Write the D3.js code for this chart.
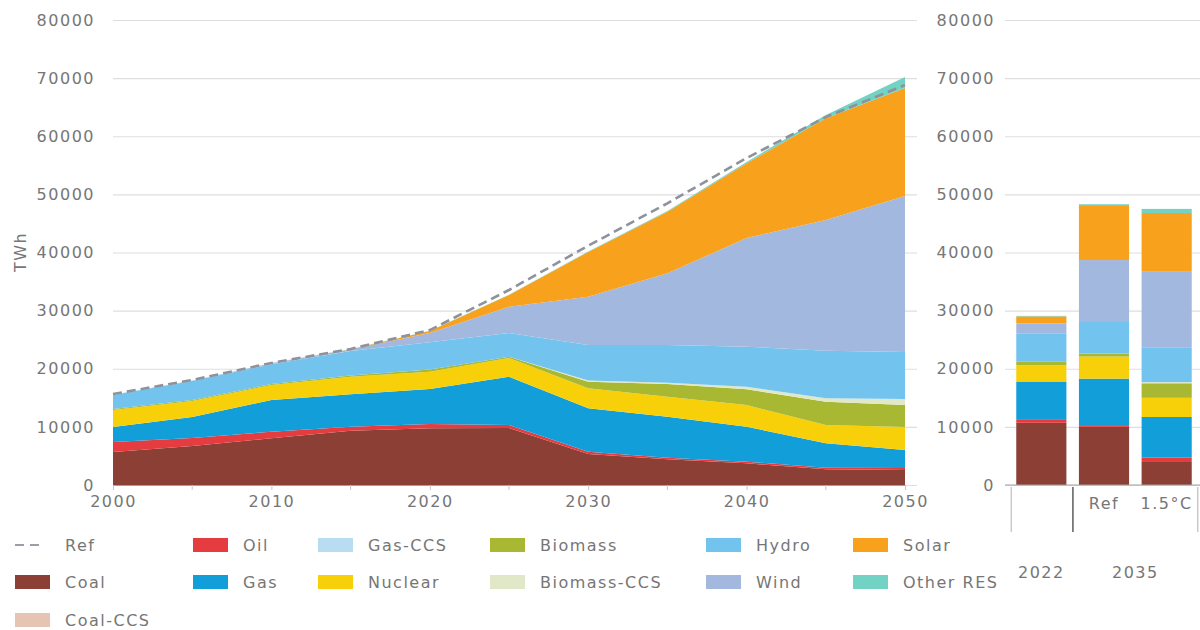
<!DOCTYPE html>
<html>
<head>
<meta charset="utf-8">
<script src="https://cdn.jsdelivr.net/npm/d3@7"></script>
<style>
  body { margin: 0; background: #fff; }
  text { font-family: "DejaVu Sans", sans-serif; fill: #767676; font-size: 16px; letter-spacing: 1.5px; }
</style>
</head>
<body>
<svg id="chart" width="1200" height="630"></svg>
<script>
(() => {

  // ---- data (TWh) ----
  let years = [2000, 2005, 2010, 2015, 2020, 2025, 2030, 2035, 2040, 2045, 2050];

  let coal       = [5680, 6710, 8030, 9340, 9750, 9800, 5330, 4420, 3730, 2700, 2580];
  let coalCCS    = [0, 0, 0, 0, 0, 0, 0, 0, 0, 0, 0];
  let oil        = [1720, 1380, 1140, 690, 740, 520, 400, 280, 280, 280, 340];
  let gas        = [2580, 3610, 5450, 5570, 6020, 8310, 7460, 7050, 6020, 4190, 3100];
  let gasCCS     = [0, 0, 0, 0, 0, 0, 0, 0, 0, 0, 0];
  let nuclear    = [2920, 2750, 2580, 3030, 2980, 3220, 3440, 3440, 3730, 3150, 3960];
  let biomass    = [170, 170, 170, 210, 380, 220, 1140, 2180, 2700, 4010, 3780];
  let biomassCCS = [0, 0, 0, 0, 0, 0, 210, 230, 450, 580, 1030];
  let hydro      = [2410, 3270, 3400, 4200, 4700, 4080, 6100, 6480, 6880, 8190, 8090];
  let wind       = [20, 50, 170, 270, 1580, 4520, 8310, 12340, 18700, 22490, 26840];
  let solar      = [0, 0, 0, 50, 340, 2020, 7690, 10600, 12850, 17490, 18580];
  let otherRES   = [20, 20, 30, 40, 50, 60, 90, 120, 230, 570, 1890];

  // reference scenario total
  let refTotal = [15650, 18060, 21000, 23400, 26660, 33550, 41170, 48460, 56250, 63300, 68810];

  // bars on the right
  let barCats = ['2022', 'Ref', '1.5°C'];
  let barCoal       = [10700, 10000, 4100];
  let barCoalCCS    = [0, 0, 0];
  let barOil        = [500, 300, 600];
  let barGas        = [6600, 8000, 7000];
  let barGasCCS     = [0, 0, 0];
  let barNuclear    = [2800, 3800, 3300];
  let barBiomass    = [600, 500, 2500];
  let barBiomassCCS = [0, 0, 200];
  let barHydro      = [4900, 5600, 6000];
  let barWind       = [1700, 10500, 13100];
  let barSolar      = [1200, 9300, 10000];
  let barOtherRES   = [100, 300, 700];

  let yTicks = [0, 10000, 20000, 30000, 40000, 50000, 60000, 70000, 80000];
  let xTicks = [2000, 2010, 2020, 2030, 2040, 2050];
  let xMinorTicks = [2005, 2015, 2025, 2035, 2045];

  let keys = ['Coal', 'Coal-CCS', 'Oil', 'Gas', 'Gas-CCS', 'Nuclear', 'Biomass', 'Biomass-CCS', 'Hydro', 'Wind', 'Solar', 'Other RES'];
  let colors = {
    'Coal': '#8b3f35',
    'Coal-CCS': '#e6c4b4',
    'Oil': '#e53c40',
    'Gas': '#129fd9',
    'Gas-CCS': '#b8dcf2',
    'Nuclear': '#f8d00a',
    'Biomass': '#a8b832',
    'Biomass-CCS': '#e1e8c8',
    'Hydro': '#72c4ee',
    'Wind': '#a2b8df',
    'Solar': '#f7a11c',
    'Other RES': '#72d2c4'
  };

  let areaSeries = [coal, coalCCS, oil, gas, gasCCS, nuclear, biomass, biomassCCS, hydro, wind, solar, otherRES];
  let barSeries = [barCoal, barCoalCCS, barOil, barGas, barGasCCS, barNuclear, barBiomass, barBiomassCCS, barHydro, barWind, barSolar, barOtherRES];

  let areaRows = years.map((yr, i) => {
    let row = { year: yr };
    keys.forEach((k, j) => row[k] = areaSeries[j][i]);
    return row;
  });
  let barRows = barCats.map((c, i) => {
    let row = { cat: c };
    keys.forEach((k, j) => row[k] = barSeries[j][i]);
    return row;
  });

  // ---- layout ----
  let left = { x0: 113, x1: 905 };
  let right = { x0: 1005, x1: 1200 };
  let top = 20, base = 485;
  let textColor = '#767676';

  let svg = d3.select('#chart');

  let y = d3.scaleLinear().domain([0, 80000]).range([base, top]);
  let x = d3.scaleLinear().domain([2000, 2050]).range([left.x0, left.x1]);

  let styleTicks = g => g.selectAll('.tick text')
    .attr('fill', textColor)
    .style('font-size', '16px')
    .style('font-family', '"DejaVu Sans", sans-serif');

  // left grid + labels
  svg.append('g')
    .attr('transform', `translate(${left.x0}, 0)`)
    .call(d3.axisLeft(y).tickValues(yTicks).tickSize(-(left.x1 - left.x0 + 12)).tickPadding(18).tickFormat(d => d))
    .call(g => g.select('.domain').remove())
    .call(g => g.selectAll('.tick line').attr('stroke', '#dedede').attr('stroke-width', 1.2))
    .call(styleTicks);

  svg.append('text')
    .attr('transform', 'translate(20, 252) rotate(-90)')
    .attr('text-anchor', 'middle')
    .attr('dy', '0.35em')
    .text('TWh');

  // stacked areas
  let stack = d3.stack().keys(keys);
  let stacked = stack(areaRows);

  let area = d3.area()
    .x(d => x(d.data.year))
    .y0(d => y(d[0]))
    .y1(d => y(d[1]));

  svg.append('g')
    .selectAll('path')
    .data(stacked)
    .enter()
    .append('path')
    .attr('d', area)
    .attr('fill', d => colors[d.key]);

  // ref dashed line
  let line = d3.line()
    .x((d, i) => x(years[i]))
    .y(d => y(d));

  svg.append('path')
    .datum(refTotal)
    .attr('d', line)
    .attr('fill', 'none')
    .attr('stroke', '#8d929b')
    .attr('stroke-width', 2.6)
    .attr('stroke-dasharray', '9,5');

  // x axis
  svg.append('g')
    .attr('transform', `translate(0, ${base})`)
    .call(d3.axisBottom(x).tickValues(xTicks).tickSize(5).tickPadding(6).tickFormat(d => d))
    .call(g => g.select('.domain').attr('stroke', '#a0a0a0'))
    .call(g => g.selectAll('.tick line').attr('stroke', '#c8c8c8'))
    .call(styleTicks);

  svg.append('g')
    .selectAll('line')
    .data(xMinorTicks)
    .enter()
    .append('line')
    .attr('x1', d => x(d)).attr('x2', d => x(d))
    .attr('y1', base).attr('y2', base + 5)
    .attr('stroke', '#c8c8c8');

  // right panel
  svg.append('g')
    .attr('transform', `translate(${right.x0}, 0)`)
    .call(d3.axisLeft(y).tickValues(yTicks).tickSize(-(right.x1 - right.x0)).tickPadding(10).tickFormat(d => d))
    .call(g => g.select('.domain').remove())
    .call(g => g.selectAll('.tick line').attr('stroke', '#dedede').attr('stroke-width', 1.2))
    .call(styleTicks);

  let xb = d3.scaleBand()
    .domain(barCats)
    .range([1010, 1198])
    .paddingInner(0.2)
    .paddingOuter(0.1);

  let barStacked = stack(barRows);

  svg.append('g')
    .selectAll('g')
    .data(barStacked)
    .enter()
    .append('g')
    .attr('fill', d => colors[d.key])
    .selectAll('rect')
    .data(d => d)
    .enter()
    .append('rect')
    .attr('x', d => xb(d.data.cat))
    .attr('width', xb.bandwidth())
    .attr('y', d => y(d[1]))
    .attr('height', d => y(d[0]) - y(d[1]));

  svg.append('line')
    .attr('x1', right.x0).attr('x2', right.x1)
    .attr('y1', base).attr('y2', base)
    .attr('stroke', '#a0a0a0');

  // group separators under the bars
  let sepX = [
    { x: xb('2022') - 5, c: '#c4c4c4' },
    { x: xb('Ref') - 6, c: '#444' },
    { x: xb('1.5°C') + xb.bandwidth() + 6, c: '#c4c4c4' }
  ];
  svg.append('g')
    .selectAll('line')
    .data(sepX)
    .enter()
    .append('line')
    .attr('x1', d => d.x).attr('x2', d => d.x)
    .attr('y1', base + 2).attr('y2', base + 47)
    .attr('stroke', d => d.c)
    .attr('stroke-width', 1.3);

  svg.append('g')
    .selectAll('text')
    .data(['Ref', '1.5°C'])
    .enter()
    .append('text')
    .attr('x', d => xb(d) + xb.bandwidth() / 2)
    .attr('y', 503)
    .attr('dy', '0.35em')
    .attr('text-anchor', 'middle')
    .text(d => d);

  svg.append('text')
    .attr('x', xb('2022') + xb.bandwidth() / 2)
    .attr('y', 572).attr('dy', '0.35em')
    .attr('text-anchor', 'middle')
    .text('2022');

  svg.append('text')
    .attr('x', (xb('Ref') + xb('1.5°C') + xb.bandwidth()) / 2)
    .attr('y', 572).attr('dy', '0.35em')
    .attr('text-anchor', 'middle')
    .text('2035');

  // legend
  let legendItems = [
    { name: 'Ref', col: 0, row: 0 },
    { name: 'Coal', col: 0, row: 1 },
    { name: 'Coal-CCS', col: 0, row: 2 },
    { name: 'Oil', col: 1, row: 0 },
    { name: 'Gas', col: 1, row: 1 },
    { name: 'Gas-CCS', col: 2, row: 0 },
    { name: 'Nuclear', col: 2, row: 1 },
    { name: 'Biomass', col: 3, row: 0 },
    { name: 'Biomass-CCS', col: 3, row: 1 },
    { name: 'Hydro', col: 4, row: 0 },
    { name: 'Wind', col: 4, row: 1 },
    { name: 'Solar', col: 5, row: 0 },
    { name: 'Other RES', col: 5, row: 1 }
  ];
  let colX = [15, 193, 318, 490, 706, 853];
  let rowY = [545, 582, 620];

  let legend = svg.append('g')
    .selectAll('g')
    .data(legendItems)
    .enter()
    .append('g')
    .attr('transform', d => `translate(${colX[d.col]}, ${rowY[d.row]})`);

  legend.filter(d => d.name !== 'Ref')
    .append('rect')
    .attr('x', 0).attr('y', -7)
    .attr('width', 35).attr('height', 14)
    .attr('fill', d => colors[d.name]);

  legend.filter(d => d.name === 'Ref')
    .append('line')
    .attr('x1', 0).attr('x2', 30)
    .attr('y1', 0).attr('y2', 0)
    .attr('stroke', '#9a9ea6')
    .attr('stroke-width', 2)
    .attr('stroke-dasharray', '9,6');

  legend.append('text')
    .attr('x', 50)
    .attr('dy', '0.35em')
    .text(d => d.name);

})();
</script>
</body>
</html>
